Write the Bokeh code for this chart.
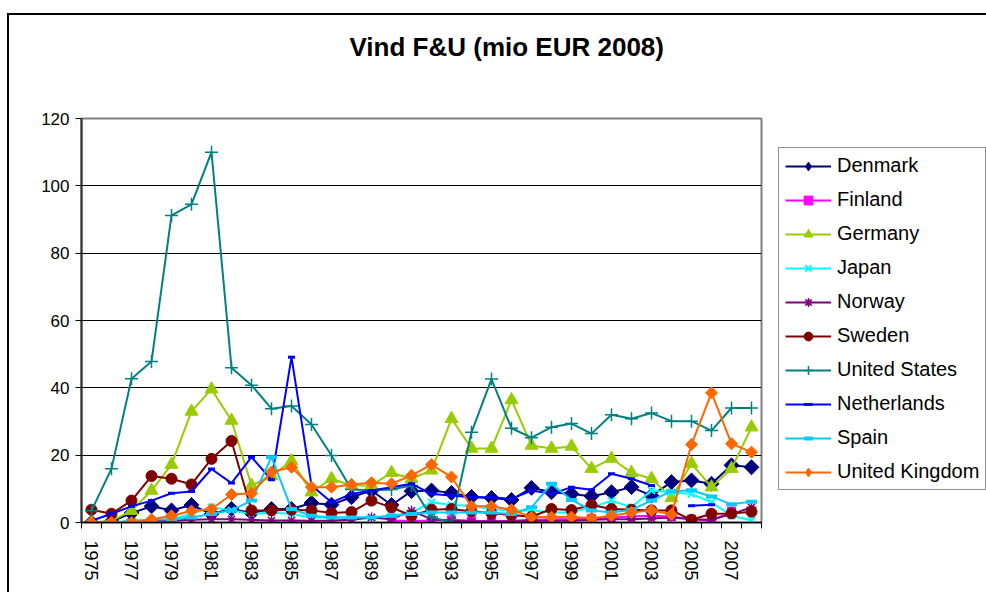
import numpy as np
from bokeh.plotting import figure
from bokeh.models import (FixedTicker, Legend, LegendItem, Title, Range1d)
from bokeh.embed import file_html
from bokeh.resources import INLINE

nan = float("nan")

years = list(range(1975, 2009))
tick_years = list(range(1975, 2009, 2))
y_ticks = [0, 20, 40, 60, 80, 100, 120]

denmark = [0, 0.3, 2.8, 4.8, 3.6, 5.2, 2.5, 4, 2.8, 4, 4, 5.8, 5.3, 7.5, 9.5, 5.2, 9.3,
           9.5, 8.8, 7.6, 7.3, 6.7, 10.3, 9, 8.5, 7.8, 9, 10.5, 8, 12, 12.5, 11.5, 17, 16.4]
finland = [nan] * 15 + [0.5, 0.5, 0.6, 0.8, 0.5, 0.4, 0.5, 0.8, 1.0, 1.0, 1.2, 1.5, 1.8,
                        2.0, 1.8, 1.0, 0.5, 3.4, nan]
germany = [0, 0.5, 3.5, 9.5, 17.2, 33, 39.6, 30.3, 11, 13.8, 18.3, 9, 13, 11, 11, 14.8, 13,
           15.5, 30.8, 22, 22, 36.4, 22.9, 22, 22.6, 16, 19, 14.8, 13, 7.3, 17.5, 10.5, 16, 28.3]
japan = [0, 0, 0.2, 0.5, 1, 2.5, 4.5, 3.6, 2.5, 3, 2.5, 1.5, 1.5, 1.5, 1.5, 2, 3, 6, 5.2,
         5, 4, 3.5, 3.6, 3, 3, 4.5, 6.5, 4.5, 9.5, 9, 8.5, 6, 2, 0.6]
norway = [0, 0, 0.3, 0.5, 0.5, 0.8, 1, 1, 0.8, 0.6, 0.6, 0.5, 0.6, 0.8, 1.5, 1, 3.5, 1,
          0.5, 0.3, 0.3, 0.3, 0.5, 0.5, 0.5, 0.8, 1, 1, 1.2, 1.5, 1, 0.8, 2.5, 4.5]
sweden = [3.8, 2.6, 6.5, 13.8, 13, 11.3, 18.9, 24.2, 3.6, 3.6, 3.8, 3.6, 2.8, 3.1, 6.5, 4.5,
          2, 3.8, 4, 3.3, 2.8, 2.2, 1.7, 4, 3.7, 5.2, 4, 3.8, 3.6, 3.6, 0.8, 2.6, 2.7, 3.2]
united_states = [3.5, 16, 42.7, 47.8, 91.2, 94.5, 110, 46, 40.8, 33.8, 34.6, 29.1, 19.9, 9.8,
                 9.6, 9.8, 11, 1.6, 0, 26.8, 42.6, 28, 25.2, 28.3, 29.4, 26.4, 32, 30.8, 32.5,
                 30.1, 30.1, 27.3, 34, 34]
netherlands = [0.5, 2.6, 4.8, 6.5, 8.7, 9.2, 15.9, 11.7, 19.4, 12.7, 49.1, 11, 6, 8.5, 9.5,
               10.5, 11.5, 8.5, 8, 7.5, 7.5, 7, 9.5, 8.5, 10.5, 9.7, 14.5, 13, 11, nan, 5,
               5.3, nan, nan]
spain = [0, 0, 0.5, 0.8, 1, 1.5, 2.5, 3.6, 6.5, 19.4, 4, 2, 1.5, 1.5, 1.5, 2, 2.5, 3, 3, 3,
         3, 2.5, 4.5, 11.5, 6.7, 3.6, 3, 3.8, 6.5, 9.3, 9.6, 7.7, 5.4, 6.2]
united_kingdom = [0, 0, 0, 0.9, 2, 3.4, 4, 8.3, 8.7, 15, 16.4, 10.5, 10.5, 11.3, 11.8, 11.5,
                  14, 17.2, 13.5, 4.8, 4.8, 3.8, 1.6, 1.6, 1.6, 1.3, 2, 3, 3.6, 2.4, 23.2,
                  38.5, 23.4, 20.9]

series_names = ["Denmark", "Finland", "Germany", "Japan", "Norway", "Sweden",
                "United States", "Netherlands", "Spain", "United Kingdom"]
series_values = [denmark, finland, germany, japan, norway, sweden,
                 united_states, netherlands, spain, united_kingdom]

# marker: plot marker; lmarker/lsize: legend marker (legend ignores rotation)
styles = {
    "Denmark":        dict(color="#000080", marker="square", size=10.5, angle=np.pi / 4, lw=1,
                           lmarker="diamond", lsize=17),
    "Finland":        dict(color="#FF00FF", marker="square", size=8, angle=0, lw=1),
    "Germany":        dict(color="#99CC00", marker="triangle", size=13, angle=0, lw=1),
    "Japan":          dict(color="#00FFFF", marker="x", size=10, angle=0, lw=2),
    "Norway":         dict(color="#800080", marker="asterisk", size=10, angle=0, lw=1.5),
    "Sweden":         dict(color="#800000", marker="circle", size=11, angle=0, lw=1),
    "United States":  dict(color="#008080", marker="cross", size=13, angle=0, lw=1.5),
    "Netherlands":    dict(color="#0000FF", marker="dash", size=7, angle=0, lw=3),
    "Spain":          dict(color="#00CCFF", marker="dash", size=11, angle=0, lw=4),
    "United Kingdom": dict(color="#FF6600", marker="square", size=8.5, angle=np.pi / 4, lw=1,
                           lmarker="diamond", lsize=14),
}

FONT = "Liberation Sans"

p = figure(frame_width=680, frame_height=404,
           min_border_left=72, min_border_right=225, min_border_top=103, min_border_bottom=70,
           x_range=Range1d(1974.5, 2008.5), y_range=Range1d(0, 120),
           output_backend="svg", toolbar_location=None)
p.margin = (13, 0, 0, 7)
p.styles = {"border-top": "2px solid #000000", "border-left": "2px solid #000000"}
p.background_fill_color = "white"
p.border_fill_color = "white"
p.outline_line_color = "#808080"
p.outline_line_width = 2

# title: a blank spacer panel next to the frame, then the real title above it
spacer = Title(text=" ", text_font_size="10px", standoff=44)
p.add_layout(spacer, "above")
t = Title(text="Vind F&U (mio EUR 2008)", align="left", offset=268, standoff=0)
t.text_font = FONT
t.text_font_style = "bold"
t.text_font_size = "26px"
t.text_color = "black"
p.add_layout(t, "above")

# axes
p.xaxis.ticker = FixedTicker(ticks=tick_years,
                             minor_ticks=[y - 0.5 for y in years] + [years[-1] + 0.5])
p.xaxis.major_label_orientation = "vertical"
p.xaxis.major_tick_out = 0
p.xaxis.major_tick_in = 0
p.xaxis.minor_tick_out = 6
p.xaxis.minor_tick_in = 0
p.xaxis.minor_tick_line_color = "black"
p.xaxis.axis_line_color = "black"
p.xaxis.axis_line_width = 1.5
p.xaxis.major_label_text_font = FONT
p.xaxis.major_label_text_font_size = "18px"
p.xaxis.major_label_text_color = "black"
p.xaxis.major_label_standoff = 12

p.yaxis.ticker = FixedTicker(ticks=y_ticks, minor_ticks=[])
p.yaxis.major_tick_out = 6
p.yaxis.major_tick_in = 0
p.yaxis.major_tick_line_color = "black"
p.yaxis.axis_line_color = "#303030"
p.yaxis.axis_line_width = 2
p.yaxis.major_label_text_font = FONT
p.yaxis.major_label_text_font_size = "17px"
p.yaxis.major_label_text_color = "black"
p.yaxis.major_label_standoff = 6

p.xgrid.grid_line_color = None
p.ygrid.ticker = FixedTicker(ticks=y_ticks)
p.ygrid.grid_line_color = "black"
p.ygrid.grid_line_width = 1.2

items = []
for name, vals in zip(series_names, series_values):
    st = styles[name]
    lr = p.line(years, vals, line_color=st["color"], line_width=2)
    sr = p.scatter(years, vals, marker=st["marker"], size=st["size"], angle=st["angle"],
                   fill_color=st["color"], line_color=st["color"], line_width=st["lw"])
    if "lmarker" in st:
        leg_r = p.scatter(years, vals, marker=st["lmarker"], size=st["lsize"],
                          fill_color=st["color"], line_color=st["color"], visible=False)
        items.append(LegendItem(label=name, renderers=[lr, leg_r]))
    else:
        items.append(LegendItem(label=name, renderers=[lr, sr]))

legend = Legend(items=items, location=(17, 32))
legend.label_text_font = FONT
legend.label_text_font_size = "20px"
legend.label_text_color = "black"
legend.label_height = 22
legend.glyph_height = 22
legend.glyph_width = 46
legend.spacing = 11
legend.padding = 6
legend.margin = 0
legend.label_standoff = 6
legend.border_line_color = "#202020"
legend.border_line_width = 1
legend.background_fill_color = "white"
legend.background_fill_alpha = 1
p.add_layout(legend, "right")

open("out.html", "w").write(file_html(p, INLINE))
